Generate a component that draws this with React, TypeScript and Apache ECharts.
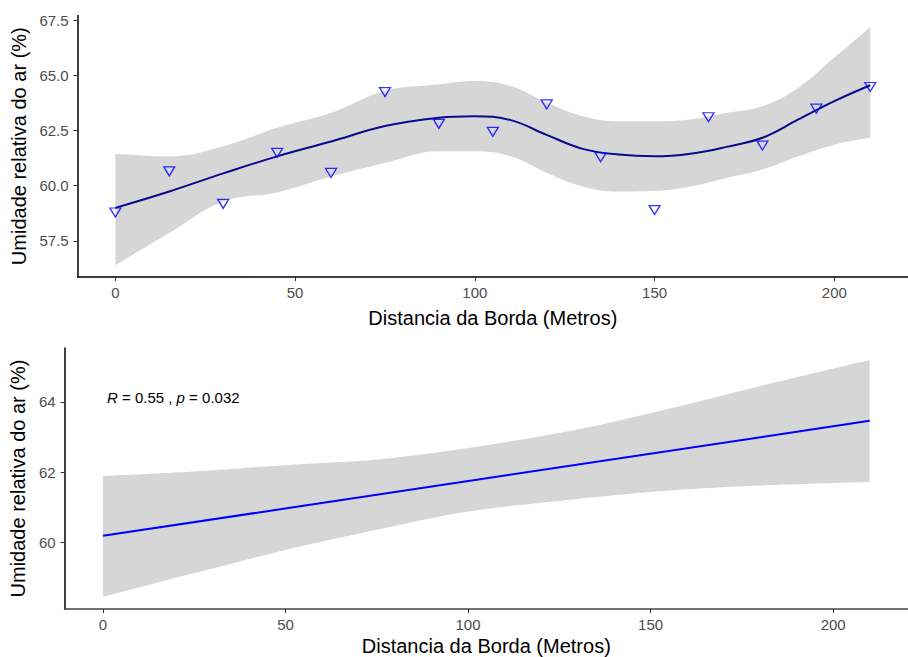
import React, { useEffect, useRef } from "react";
import * as echarts from "echarts";

// ---- Top panel (loess) ----
const distances = [0, 15, 30, 45, 60, 75, 90, 105, 120, 135, 150, 165, 180, 195, 210];
const humidity = [58.79, 60.65, 59.18, 61.49, 60.58, 64.24, 62.8, 62.44, 63.68, 61.29, 58.9, 63.1, 61.82, 63.49, 64.47];

const loessX = [0, 15, 30, 45, 60, 75, 90, 100, 110, 120, 130, 140, 150, 160, 170, 180, 190, 200, 210];
const loessFit = [59.0, 59.74, 60.56, 61.33, 62.0, 62.7, 63.08, 63.15, 62.97, 62.3, 61.67, 61.41, 61.33, 61.45, 61.76, 62.17, 63.0, 63.83, 64.55];
const loessUpper = [61.45, 61.33, 61.79, 62.62, 63.3, 64.29, 64.59, 64.74, 64.51, 63.76, 63.15, 62.92, 62.92, 63.0, 63.3, 63.6, 64.44, 65.8, 67.17];
const loessLower = [56.41, 57.86, 59.29, 59.7, 60.42, 61.03, 61.56, 61.56, 61.33, 60.58, 59.97, 59.74, 59.77, 59.97, 60.35, 60.73, 61.33, 61.86, 62.17];

// ---- Bottom panel (linear fit) ----
const linX = [0, 210];
const linFit = [60.19, 63.46];
const ciX = [0, 25, 50, 75, 100, 130, 155, 180, 210];
const ciUpper = [61.89, 62.02, 62.2, 62.36, 62.69, 63.21, 63.8, 64.45, 65.19];
const ciLower = [58.45, 59.13, 59.79, 60.36, 60.88, 61.24, 61.48, 61.62, 61.72];

const xTicks = [0, 50, 100, 150, 200];
const yTicksTop = [57.5, 60, 62.5, 65, 67.5];
const yTicksBottom = [60, 62, 64];

const FONT = "'Liberation Sans', Arial, sans-serif";
const xTitle = "Distancia da Borda (Metros)";
const yTitle = "Umidade relativa do ar (%)";

const pairs = (xs: number[], ys: number[]) => xs.map((x, i) => [x, ys[i]]);
// [y, x] order so that the stacked dimension is y (encode below)
const yFirst = (xs: number[], ys: number[]) => xs.map((x, i) => [ys[i], x]);

function xAxis(grid: number, nameGap: number, lineColor: string) {
  return {
    type: "value",
    gridIndex: grid,
    min: -10.5,
    max: 220.5,
    name: xTitle,
    nameLocation: "middle",
    nameGap,
    nameTextStyle: { fontSize: 20, color: "#000", fontFamily: FONT },
    axisLine: { show: true, onZero: false, lineStyle: { color: lineColor, width: 1.5 } },
    axisTick: { show: true, length: 4, customValues: xTicks, lineStyle: { color: "#333", width: 1 } },
    axisLabel: { customValues: xTicks, color: "#4d4d4d", fontSize: 15, margin: 8, fontFamily: FONT },
    splitLine: { show: false },
  };
}

function yAxis(grid: number, min: number, max: number, ticks: number[], decimals: number, nameGap: number) {
  return {
    type: "value",
    gridIndex: grid,
    min,
    max,
    name: yTitle,
    nameLocation: "middle",
    nameGap,
    nameTextStyle: { fontSize: 20, color: "#000", fontFamily: FONT },
    axisLine: { show: true, onZero: false, lineStyle: { color: "#000", width: 1.5 } },
    axisTick: { show: true, length: 4, customValues: ticks, lineStyle: { color: "#333", width: 1 } },
    axisLabel: {
      customValues: ticks,
      color: "#4d4d4d",
      fontSize: 15,
      margin: 9,
      fontFamily: FONT,
      formatter: (v: number) => v.toFixed(decimals),
    },
    splitLine: { show: false },
  };
}

export default function App() {
  const ref = useRef<HTMLDivElement>(null);

  useEffect(() => {
    if (!ref.current) return;
    const chart = echarts.init(ref.current, undefined, { renderer: "svg" });
    const diff = (up: number[], lo: number[]) => up.map((u, i) => +(u - lo[i]).toFixed(3));

    const bandSeries = (axis: number, stack: string, xs: number[], up: number[], lo: number[], smooth: number) => [
      {
        type: "line",
        xAxisIndex: axis,
        yAxisIndex: axis,
        stack,
        encode: { x: 1, y: 0 },
        data: yFirst(xs, lo),
        smooth,
        symbol: "none",
        lineStyle: { opacity: 0, width: 0 },
        silent: true,
        z: 1,
      },
      {
        type: "line",
        xAxisIndex: axis,
        yAxisIndex: axis,
        stack,
        encode: { x: 1, y: 0 },
        data: yFirst(xs, diff(up, lo)),
        smooth,
        symbol: "none",
        lineStyle: { opacity: 0, width: 0 },
        areaStyle: { color: "#d6d6d6", opacity: 1 },
        silent: true,
        z: 1,
      },
    ];

    chart.setOption({
      animation: false,
      backgroundColor: "#fff",
      textStyle: { fontFamily: FONT },
      grid: [
        { left: 77.6, top: 15.4, width: 845.5, height: 261.6 },
        { left: 64, top: 348, width: 857.7, height: 262 },
      ],
      xAxis: [xAxis(0, 31, "#000"), xAxis(1, 27, "#444")],
      yAxis: [
        yAxis(0, 55.87, 67.71, yTicksTop, 1, 46),
        yAxis(1, 58.11, 65.53, yTicksBottom, 0, 33),
      ],
      graphic: [
        {
          type: "text",
          x: 107,
          y: 397,
          style: {
            text: "{i|R} = 0.55 , {i|p} = 0.032",
            fill: "#000",
            font: `15px ${FONT}`,
            verticalAlign: "middle",
            rich: {
              i: { fontStyle: "italic", fontSize: 15, fontFamily: FONT, fill: "#000" },
            },
          },
        },
      ],
      series: [
        ...bandSeries(0, "loessBand", loessX, loessUpper, loessLower, 0.4),
        {
          type: "line",
          xAxisIndex: 0,
          yAxisIndex: 0,
          data: pairs(loessX, loessFit),
          smooth: 0.4,
          symbol: "none",
          lineStyle: { color: "#0a0a8c", width: 2 },
          z: 3,
        },
        {
          type: "scatter",
          xAxisIndex: 0,
          yAxisIndex: 0,
          data: pairs(distances, humidity),
          symbol: "triangle",
          symbolRotate: 180,
          symbolSize: [11, 9],
          itemStyle: { color: "rgba(0,0,0,0)", borderColor: "#0000ff", borderWidth: 1.3 },
          z: 5,
        },
        ...bandSeries(1, "linBand", ciX, ciUpper, ciLower, 0.3),
        {
          type: "line",
          xAxisIndex: 1,
          yAxisIndex: 1,
          data: pairs(linX, linFit),
          symbol: "none",
          lineStyle: { color: "#0000ff", width: 2 },
          z: 3,
        },
      ],
    });
    return () => chart.dispose();
  }, []);

  return (
    <div
      ref={ref}
      style={{ position: "fixed", left: 0, top: 0, width: 908, height: 657, background: "#fff" }}
    />
  );
}
